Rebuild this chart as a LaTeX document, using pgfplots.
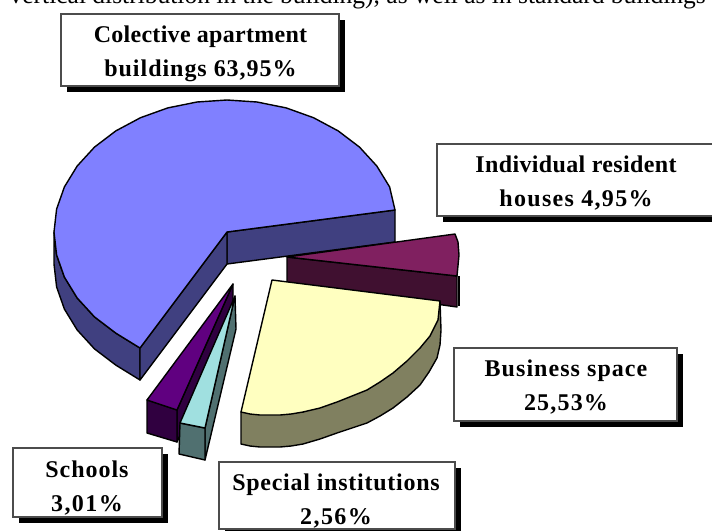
\documentclass[border=0pt]{standalone}
\usepackage{pgfplots}
\pgfplotsset{compat=1.18}
\usepackage{fontspec}
\setmainfont{Liberation Serif}
\definecolor{bluetop}{RGB}{128,128,255}
\definecolor{blueside}{RGB}{64,64,128}
\definecolor{magtop}{RGB}{128,32,96}
\definecolor{magside}{RGB}{64,16,48}
\definecolor{yeltop}{RGB}{255,255,192}
\definecolor{yelside}{RGB}{128,128,96}
\definecolor{purtop}{RGB}{96,0,128}
\definecolor{purside}{RGB}{48,0,64}
\definecolor{cyantop}{RGB}{160,224,224}
\definecolor{cyanside}{RGB}{80,112,112}

\newcommand{\ls}[2]{{\addfontfeatures{LetterSpace=#1}#2}}

\pgfplotsset{
    slice/.style={fill=#1, draw=black, line width=1.4pt, line join=round},
    boxface/.style={fill=white, draw=black!70, line width=1.1pt},
    shadow/.style={fill=black, draw=none},
}
\tikzset{lab/.style={font=\fontsize{24}{34}\selectfont\bfseries, align=center, inner sep=0pt}}

\begin{document}
\begin{tikzpicture}
\begin{axis}[
    scale only axis,
    width=712pt,
    height=530pt,
    xmin=0, xmax=712,
    ymin=0, ymax=530,
    y dir=reverse,
    ticks=none,
    axis line style={draw=none},
]

%% big slice, walls first
\addplot[slice=blueside] coordinates {(227,232) (395,210) (395,242) (227,264)} -- cycle;
\addplot[slice=blueside] coordinates {
    (54,232) (54,264) (56.6,286.9) (64.4,309.1) (77.2,330) (94.5,348.9) (115.8,365.1) (140,380)
    (140,348) (115.8,333.1) (94.5,316.9) (77.2,298) (64.4,277.1) (56.6,254.9)
} -- cycle;
\addplot[slice=blueside] coordinates {(227,232) (140,348) (140,380) (227,264)} -- cycle;
\addplot[slice=bluetop] coordinates {
    (227,232) (395,210) (389.6,186.9) (376.8,166) (359.5,147.1) (338.2,130.9) (313.5,117.7)
    (286.2,107.9) (257,102) (227,100) (197,102) (167.8,107.9) (140.5,117.7) (115.8,130.9)
    (94.5,147.1) (77.2,166) (64.4,186.9) (56.6,209.1) (54,232) (56.6,254.9) (64.4,277.1)
    (77.2,298) (94.5,316.9) (115.8,333.1) (140,348)
} -- cycle;

%% individual houses
\addplot[slice=magside] coordinates {(287,257) (457,276) (457,307) (287,283)} -- cycle;
\addplot[slice=magtop] coordinates {(287,257) (455,234) (458,242) (459,255) (457,276)} -- cycle;
\addplot[draw=black, line width=2.4pt] coordinates {(459,276) (459,306)};

%% business space
\addplot[slice=yelside] coordinates {
    (241,412) (241,444) (250,446) (260,447) (280,447) (291,446) (303,444) (320,439) (337,433)
    (352,428) (367,423) (380,416) (393,408) (407,397) (420,385) (429,372) (437,358) (440,345)
    (441,330) (440,301) (420,348) (303,412)
} -- cycle;
\addplot[slice=yeltop] coordinates {
    (272,280) (440,301) (438,320) (430,336) (420,348) (407,361) (393,373) (380,382) (367,390)
    (352,396) (337,402) (320,408) (303,412) (291,414) (280,415) (260,415) (250,414) (241,412)
} -- cycle;

%% schools
\addplot[slice=purside] coordinates {(233,284) (177,410) (177,442) (233,316)} -- cycle;
\addplot[slice=purside] coordinates {(147,400) (177,410) (177,442) (147,433)} -- cycle;
\addplot[slice=purtop] coordinates {(233,284) (147,400) (177,410)} -- cycle;

%% special institutions
\addplot[slice=cyanside] coordinates {(235,296) (205,428) (205,460) (236,329)} -- cycle;
\addplot[slice=cyanside] coordinates {(180,423) (205,428) (205,460) (179,454)} -- cycle;
\addplot[slice=cyantop] coordinates {(235,296) (180,423) (205,428)} -- cycle;

%% label boxes
\addplot[shadow] coordinates {(67,20) (345,20) (345,92) (67,92)} -- cycle;
\addplot[boxface] coordinates {(61,14) (339,14) (339,86) (61,86)} -- cycle;
\addplot[shadow] coordinates {(443,150) (721,150) (721,222) (443,222)} -- cycle;
\addplot[boxface] coordinates {(437,144) (715,144) (715,216) (437,216)} -- cycle;
\addplot[shadow] coordinates {(460,354) (683,354) (683,427) (460,427)} -- cycle;
\addplot[boxface] coordinates {(454,348) (677,348) (677,421) (454,421)} -- cycle;
\addplot[shadow] coordinates {(19,454) (168,454) (168,523) (19,523)} -- cycle;
\addplot[boxface] coordinates {(13,448) (162,448) (162,517) (13,517)} -- cycle;
\addplot[shadow] coordinates {(225,468) (461,468) (461,536) (225,536)} -- cycle;
\addplot[boxface] coordinates {(219,462) (455,462) (455,529) (219,529)} -- cycle;

%% the running text of the page, cut off at the top
\node[anchor=base east, inner sep=0pt, font=\fontsize{25.5}{28}\selectfont] at (axis cs:706,3)
    {vertical distribution in the building), as well as in standard buildings};

\node[lab] at (axis cs:200.5,53.5) {\ls{1.2}{Colective apartment}\\\ls{4}{buildings 63,95\%}};
\node[lab] at (axis cs:576,183.5) {\ls{1.5}{Individual resident}\\\ls{5.5}{houses 4,95\%}};
\node[lab] at (axis cs:566,387) {\ls{4.4}{Business space}\\\ls{5}{25,53\%}};
\node[lab] at (axis cs:87,488) {\ls{4}{Schools}\\\ls{6}{3,01\%}};
\node[lab] at (axis cs:336,501.5) {\ls{3.1}{Special institutions}\\\ls{6}{2,56\%}};
\end{axis}
\end{tikzpicture}
\end{document}
